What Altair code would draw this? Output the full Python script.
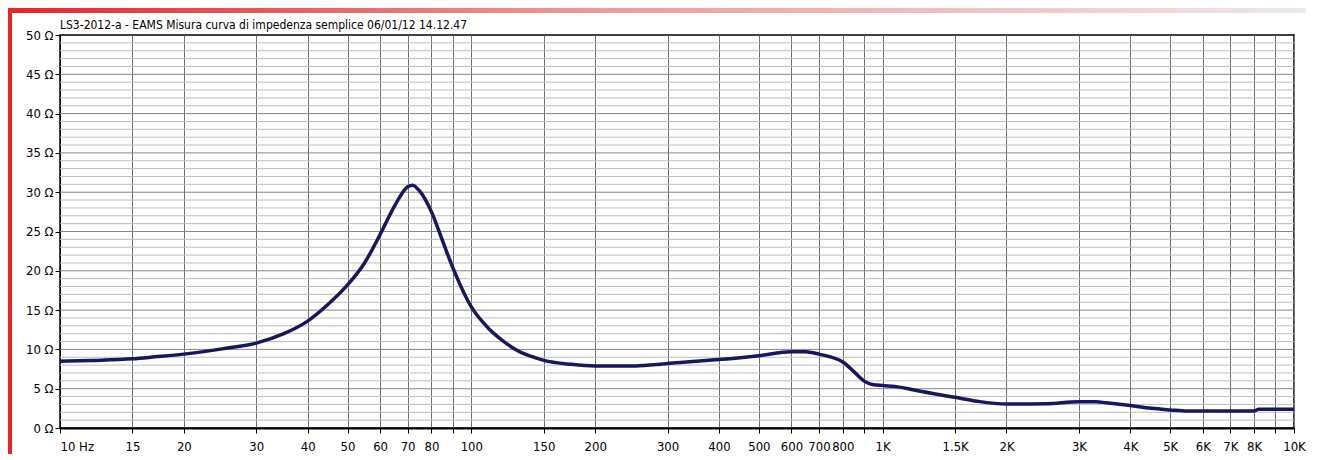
import json
import altair as alt
import pandas as pd

# --- data ---
freq = [10, 12, 15, 17, 20, 25, 30, 35, 40, 45, 50, 55, 60, 65, 70, 72, 75, 80, 85, 90,
        100, 110, 120, 130, 140, 150, 175, 200, 250, 300, 400, 500, 600, 650, 700, 800,
        850, 900, 950, 1000, 1100, 1200, 1500, 1700, 2000, 2500, 3000, 3300, 3500, 4000,
        4500, 5000, 5500, 6000, 7000, 8000, 8200, 9000, 10000]
impedance = [8.5, 8.6, 8.8, 9.05, 9.4, 10.1, 10.8, 12.0, 13.6, 15.8, 18.2, 21.0, 24.6, 28.2,
             30.7, 30.9, 30.1, 27.5, 23.9, 20.5, 15.4, 12.7, 11.0, 9.8, 9.1, 8.6, 8.1, 7.9,
             7.9, 8.2, 8.7, 9.2, 9.7, 9.7, 9.4, 8.4, 7.2, 6.0, 5.5, 5.4, 5.2, 4.8, 3.9, 3.4,
             3.05, 3.1, 3.35, 3.35, 3.2, 2.85, 2.5, 2.3, 2.15, 2.15, 2.15, 2.15, 2.4, 2.4, 2.4]

x_ticks = [10, 15, 20, 30, 40, 50, 60, 70, 80, 90, 100, 150, 200, 300, 400, 500, 600, 700,
           800, 900, 1000, 1500, 2000, 3000, 4000, 5000, 6000, 7000, 8000, 9000, 10000]
x_labels = ["10 Hz", "15", "20", "30", "40", "50", "60", "70", "80", "", "100", "150", "200",
            "300", "400", "500", "600", "700", "800", "", "1K", "1.5K", "2K", "3K", "4K", "5K",
            "6K", "7K", "8K", "", "10K"]
y_ticks = [0, 5, 10, 15, 20, 25, 30, 35, 40, 45, 50]
y_labels = [f"{v} Ω" for v in y_ticks]
minor_y = [v for v in range(1, 50) if v % 5 != 0]
major_y = [5, 10, 15, 20, 25, 30, 35, 40, 45]

title_text = "LS3-2012-a - EAMS Misura curva di impedenza semplice 06/01/12 14.12.47"

FONT = "DejaVu Sans Condensed, Liberation Sans Narrow, Liberation Sans, Arial"

df = pd.DataFrame({"f": freq, "z": impedance})
xmap = json.dumps({str(k): v for k, v in zip(x_ticks, x_labels)})
ymap = json.dumps({str(k): v for k, v in zip(y_ticks, y_labels)})

xscale = alt.Scale(type="log", domain=[10, 10000], nice=False)
yscale = alt.Scale(domain=[0, 50], nice=False)

xaxis = alt.Axis(values=x_ticks, labelExpr=f"{xmap}[''+datum.value]", title=None,
                 grid=True, gridColor="#707070", gridWidth=1, tickSize=5,
                 labelPadding=7, labelFontSize=13,
                 labelAlign=alt.condition("datum.value == 10", alt.value("left"), alt.value("center")),
                 domainColor="#000000", domainWidth=2, tickColor="#000000")
yaxis = alt.Axis(values=y_ticks, labelExpr=f"{ymap}[''+datum.value]", title=None,
                 grid=False, tickSize=5, labelPadding=2, labelFontSize=13,
                 domainColor="#000000", tickColor="#000000")

minor_df = pd.DataFrame({"y": minor_y})
major_df = pd.DataFrame({"y": major_y})

minor = alt.Chart(minor_df).mark_rule(color="#bdbdbd", strokeWidth=1).encode(
    y=alt.Y("y:Q", scale=yscale, axis=yaxis))
major = alt.Chart(major_df).mark_rule(color="#858585", strokeWidth=1).encode(
    y=alt.Y("y:Q", scale=yscale, axis=yaxis))

line = alt.Chart(df).mark_line(color="#17175e", strokeWidth=3.5, interpolate="monotone").encode(
    x=alt.X("f:Q", scale=xscale, axis=xaxis),
    y=alt.Y("z:Q", scale=yscale, axis=yaxis),
)

deco_df = pd.DataFrame({"k": [0]})
title = alt.Chart(deco_df).mark_text(
    text=title_text, align="left", baseline="alphabetic", fontSize=12, font=FONT,
    color="#000000").encode(x=alt.value(0), y=alt.value(-6))

# window-frame decoration (red left bar, gradient top band)
red_bar = alt.Chart(deco_df).mark_rect(color="#e3262a").encode(
    x=alt.value(-52), x2=alt.value(-48), y=alt.value(-27), y2=alt.value(430))
top_band = alt.Chart(deco_df).mark_rect(
    color=alt.LinearGradient(gradient="linear",
                             stops=[alt.GradientStop(color="#e3262a", offset=0),
                                    alt.GradientStop(color="#ee9a9a", offset=0.45),
                                    alt.GradientStop(color="#efe9e9", offset=1)],
                             x1=0, x2=1, y1=0, y2=0)).encode(
    x=alt.value(-52), x2=alt.value(1252), y=alt.value(-27), y2=alt.value(-22))

chart = alt.layer(minor, major, line, title, red_bar, top_band).properties(
    width=1234, height=393,
    autosize=alt.AutoSizeParams(type="none"),
    padding={"left": 52, "top": 27, "right": 12, "bottom": 26},
    background="#ffffff",
).configure_view(stroke="#000000", strokeWidth=1.5).configure_axis(
    labelFont=FONT, labelColor="#000000")

chart.save("out.html", embed_options={"renderer": "svg", "actions": False})
